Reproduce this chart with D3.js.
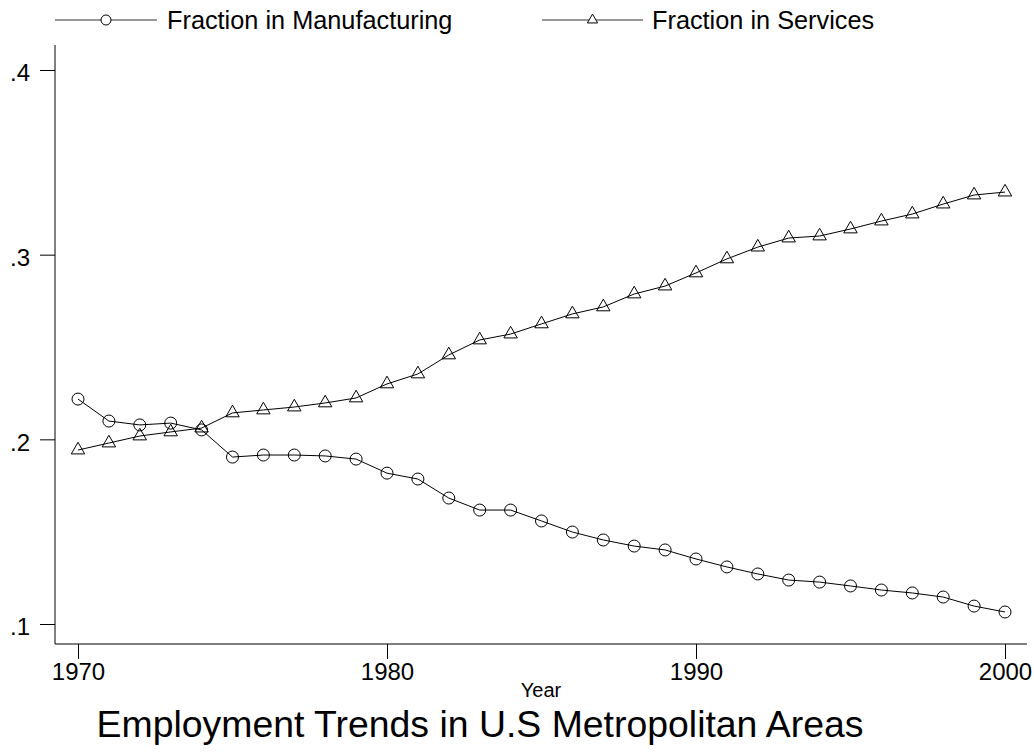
<!DOCTYPE html>
<html>
<head>
<meta charset="utf-8">
<script src="https://cdn.jsdelivr.net/npm/d3@7"></script>
<style>
  html, body { margin: 0; padding: 0; background: #fff; }
  svg { display: block; font-family: "Liberation Sans", Arial, Helvetica, sans-serif; }
</style>
</head>
<body>
<svg id="chart" width="1034" height="755"></svg>
<script>
const years = d3.range(1970, 2001);
const manufacturing = [0.2218, 0.2099, 0.2078, 0.2088, 0.2051, 0.1904, 0.1915, 0.1915, 0.1910, 0.1893,
  0.1817, 0.1785, 0.1682, 0.1617, 0.1617, 0.1558, 0.1498, 0.1455, 0.1422, 0.1401,
  0.1352, 0.1309, 0.1271, 0.1238, 0.1227, 0.1206, 0.1184, 0.1168, 0.1146, 0.1097, 0.1065];
const services = [0.1942, 0.1980, 0.2018, 0.2040, 0.2061, 0.2143, 0.2159, 0.2175, 0.2197, 0.2224,
  0.2300, 0.2354, 0.2457, 0.2538, 0.2570, 0.2625, 0.2679, 0.2717, 0.2787, 0.2830,
  0.2901, 0.2977, 0.3041, 0.3090, 0.3101, 0.3139, 0.3182, 0.3220, 0.3274, 0.3323, 0.3339];
const xTicks = [1970, 1980, 1990, 2000];
const yTicks = [0.1, 0.2, 0.3, 0.4];
const yTickLabels = [".1", ".2", ".3", ".4"];
const seriesNames = ["Fraction in Manufacturing", "Fraction in Services"];
const titleText = "Employment Trends in U.S Metropolitan Areas";
const xTitle = "Year";

const svg = d3.select("#chart");
const x = d3.scaleLinear().domain([1970, 2000]).range([78, 1005]);
const y = d3.scaleLinear().domain([0.1, 0.4]).range([624, 70]);
const axisX0 = 55, axisX1 = 1027, axisY = 644, axisTop = 45;

// axes
const xAxis = svg.append("g").attr("transform", `translate(0,${axisY})`)
  .call(d3.axisBottom(x).tickValues(xTicks).tickFormat(d3.format("d")).tickSize(15).tickPadding(4).tickSizeOuter(0));
xAxis.select(".domain").remove();
xAxis.selectAll(".tick line").attr("stroke", "#000");
xAxis.selectAll(".tick text").attr("font-size", 24).attr("fill", "#000")
  .attr("font-family", "Liberation Sans, Arial, sans-serif");
svg.append("line").attr("x1", axisX0).attr("x2", axisX1).attr("y1", axisY).attr("y2", axisY)
  .attr("stroke", "#000").attr("stroke-width", 1);

const yAxis = svg.append("g").attr("transform", `translate(${axisX0},0)`)
  .call(d3.axisLeft(y).tickValues(yTicks).tickFormat((d, i) => yTickLabels[i]).tickSize(15).tickPadding(10).tickSizeOuter(0));
yAxis.select(".domain").remove();
yAxis.selectAll(".tick line").attr("stroke", "#000");
yAxis.selectAll(".tick text").attr("font-size", 24).attr("fill", "#000").attr("dy", "0.45em")
  .attr("font-family", "Liberation Sans, Arial, sans-serif");
svg.append("line").attr("x1", axisX0).attr("x2", axisX0).attr("y1", axisTop).attr("y2", axisY)
  .attr("stroke", "#000").attr("stroke-width", 1);

// lines
const line = d3.line().x((d, i) => x(years[i])).y(d => y(d));
svg.append("path").datum(manufacturing).attr("d", line).attr("fill", "none").attr("stroke", "#000").attr("stroke-width", 1);
svg.append("path").datum(services).attr("d", line).attr("fill", "none").attr("stroke", "#000").attr("stroke-width", 1);

// markers
svg.append("g").selectAll("circle").data(manufacturing).join("circle")
  .attr("cx", (d, i) => x(years[i])).attr("cy", d => y(d)).attr("r", 6)
  .attr("fill", "none").attr("stroke", "#000").attr("stroke-width", 1);
const tri = d3.symbol().type(d3.symbolTriangle).size(78);
svg.append("g").selectAll("path").data(services).join("path")
  .attr("d", tri).attr("transform", (d, i) => `translate(${x(years[i])},${y(d)})`)
  .attr("fill", "none").attr("stroke", "#000").attr("stroke-width", 1);

// legend
const legend = svg.append("g");
const legItems = [
  { name: seriesNames[0], x0: 55, x1: 157, sym: "circle", tx: 167 },
  { name: seriesNames[1], x0: 542, x1: 643, sym: "triangle", tx: 652 }
];
const legY = 20;
legItems.forEach(it => {
  legend.append("line").attr("x1", it.x0).attr("x2", it.x1).attr("y1", legY).attr("y2", legY)
    .attr("stroke", "#333").attr("stroke-width", 1);
  const cx = (it.x0 + it.x1) / 2;
  if (it.sym === "circle") {
    legend.append("circle").attr("cx", cx).attr("cy", legY).attr("r", 5)
      .attr("fill", "#fff").attr("stroke", "#000");
  } else {
    legend.append("path").attr("d", d3.symbol().type(d3.symbolTriangle).size(45))
      .attr("transform", `translate(${cx},${legY})`).attr("fill", "#fff").attr("stroke", "#000");
  }
  legend.append("text").attr("x", it.tx).attr("y", legY).attr("dy", "0.36em")
    .attr("font-size", 25.3).attr("fill", "#000").text(it.name);
});

// axis title
svg.append("text").attr("x", (axisX0 + axisX1) / 2).attr("y", 697).attr("text-anchor", "middle")
  .attr("font-size", 20).attr("fill", "#000").text(xTitle);

// chart title
svg.append("text").attr("x", 480).attr("y", 737).attr("text-anchor", "middle")
  .attr("font-size", 37.4).attr("fill", "#000").text(titleText);
</script>
</body>
</html>
